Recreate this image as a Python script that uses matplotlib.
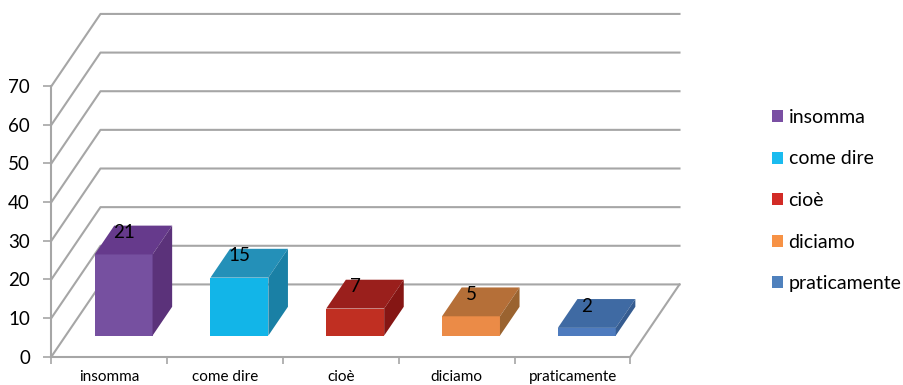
import matplotlib
matplotlib.use("Agg")
import matplotlib.pyplot as plt
from matplotlib.patches import Polygon, Patch

categories = ["insomma", "come dire", "cioè", "diciamo", "praticamente"]
values = [21, 15, 7, 5, 2]
yticks = [0, 10, 20, 30, 40, 50, 60, 70]
front_colors = ["#7650A0", "#12B5E8", "#C02F22", "#EB8B47", "#4E7BBE"]
top_colors = ["#663A8C", "#2490B8", "#9A1F1C", "#B56F38", "#3F6AA3"]
side_colors = ["#5B327A", "#1A80A5", "#851614", "#9A6330", "#365C90"]
legend_colors = ["#7A4FA3", "#1ABBEF", "#D22B26", "#F79245", "#4F81BD"]

GRID = "#A6A6A6"
# oblique depth: how far the back wall is shifted, in axis units
DEPTH_X = 0.423
DEPTH_Y = 18.65
BAR_Z0 = 0.29
BAR_Z1 = 0.69
BAR_W = 0.5


def proj(x, y, z):
    return x + z * DEPTH_X, y + z * DEPTH_Y


plt.rcParams["font.family"] = ["Lato", "DejaVu Sans"]
W, H = 904, 385
fig = plt.figure(figsize=(W / 100, H / 100), dpi=100)
ax = fig.add_axes([51.5 / W, 1 - 356.5 / H, 579 / W, 270.5 / H])
ax.set_xlim(0, len(categories))
ax.set_ylim(0, 70)
ax.patch.set_visible(False)

# back wall, left wall and floor
for t in yticks:
    xs, ys = zip(proj(0, t, 0), proj(0, t, 1), proj(len(categories), t, 1))
    ax.plot(xs, ys, color=GRID, lw=1.5, clip_on=False, zorder=1)
xs, ys = zip(proj(len(categories), 0, 0), proj(len(categories), 0, 1))
ax.plot(xs, ys, color=GRID, lw=1.5, clip_on=False, zorder=1)

for i, v in enumerate(values):
    x0 = i + (1 - BAR_W) / 2
    x1 = x0 + BAR_W
    front = [proj(x0, 0, BAR_Z0), proj(x1, 0, BAR_Z0), proj(x1, v, BAR_Z0), proj(x0, v, BAR_Z0)]
    top = [proj(x0, v, BAR_Z0), proj(x1, v, BAR_Z0), proj(x1, v, BAR_Z1), proj(x0, v, BAR_Z1)]
    side = [proj(x1, 0, BAR_Z0), proj(x1, 0, BAR_Z1), proj(x1, v, BAR_Z1), proj(x1, v, BAR_Z0)]
    ax.add_patch(Polygon(front, fc=front_colors[i], ec="none", clip_on=False, zorder=3))
    ax.add_patch(Polygon(top, fc=top_colors[i], ec="none", clip_on=False, zorder=3))
    ax.add_patch(Polygon(side, fc=side_colors[i], ec="none", clip_on=False, zorder=3))
    lx, ly = proj(i + 0.5, v, BAR_Z0)
    ax.text(lx, ly + 5.6, str(v), ha="center", va="center", fontsize=13.5, color="black", zorder=4)

for s in ["top", "right"]:
    ax.spines[s].set_visible(False)
for s in ["left", "bottom"]:
    ax.spines[s].set_color(GRID)
    ax.spines[s].set_linewidth(1.5)

ax.set_yticks(yticks)
ax.set_xticks(range(len(categories) + 1))
ax.set_xticklabels([])
ax.set_xticks([i + 0.5 for i in range(len(categories))], minor=True)
ax.set_xticklabels(categories, minor=True, fontsize=11, color="black")
ax.tick_params(axis="x", which="minor", length=0, pad=9.5)
ax.tick_params(axis="x", which="major", length=5, width=1.2, color=GRID)
ax.tick_params(axis="y", length=6, width=1.2, color=GRID, labelsize=13.5, pad=9.5)

handles = [Patch(fc=c, ec="none") for c in legend_colors]
fig.legend(handles, categories, loc="center left", bbox_to_anchor=(772 / W, 1 - 200.5 / H),
           frameon=False, fontsize=14, handlelength=0.59, handleheight=0.59,
           handletextpad=0.26, labelspacing=1.26, borderpad=0, borderaxespad=0)

fig.savefig("out.png", dpi=100)
